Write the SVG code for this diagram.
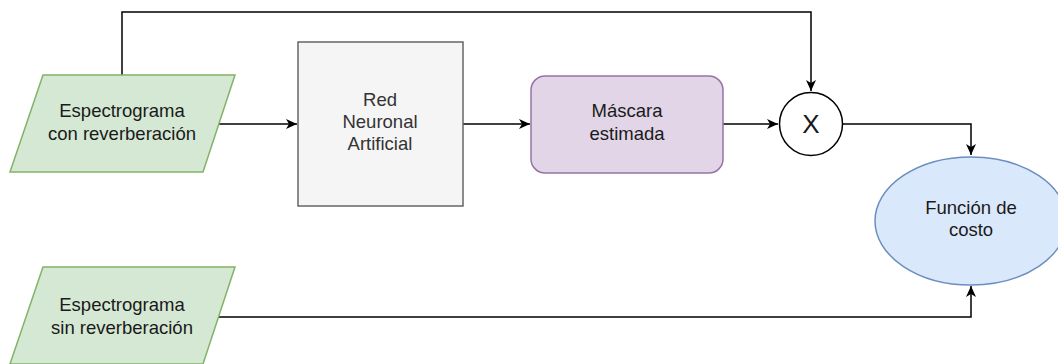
<svg xmlns="http://www.w3.org/2000/svg" width="1058" height="364" viewBox="0 0 1058 364">
<style>
text{font-family:"Liberation Sans",Arial,sans-serif;font-size:18.5px;fill:#1a1a1a;text-anchor:middle}
.c{fill:none;stroke:#000;stroke-width:1.5}
</style>
<defs>
<marker id="a" markerWidth="12" markerHeight="10" refX="11" refY="5" orient="auto" markerUnits="userSpaceOnUse">
<path d="M0,0 L11,5 L0,10 L3,5 Z" fill="#000"/>
</marker>
</defs>
<rect width="1058" height="364" fill="#fff"/>
<g id="connectors">
<path class="c" d="M122,75 V12 H811 V91" marker-end="url(#a)"/>
<path class="c" d="M219,124 H297" marker-end="url(#a)"/>
<path class="c" d="M463,124 H530" marker-end="url(#a)"/>
<path class="c" d="M723,124 H778" marker-end="url(#a)"/>
<path class="c" d="M843,124 H971 V155" marker-end="url(#a)"/>
<path class="c" d="M219,317 H971 V286" marker-end="url(#a)"/>
</g>
<g id="spec-rev">
<polygon points="43,75 235,75 203,172 10,172" fill="#d5e8d4" stroke="#82b366" stroke-width="1.5"/>
<text x="122" y="117">Espectrograma</text>
<text x="122" y="140">con reverberación</text>
</g>
<g id="red">
<rect x="298" y="42" width="165" height="164" fill="#f5f5f5" stroke="#666" stroke-width="1.5"/>
<text x="380" y="106" style="fill:#333">Red</text>
<text x="380" y="128" style="fill:#333">Neuronal</text>
<text x="380" y="150" style="fill:#333">Artificial</text>
</g>
<g id="mascara">
<rect x="531" y="76" width="192" height="97" rx="14" fill="#e1d5e7" stroke="#9673a6" stroke-width="1.5"/>
<text x="627" y="117">Máscara</text>
<text x="627" y="140">estimada</text>
</g>
<g id="mult">
<circle cx="811" cy="124" r="31.5" fill="#fff" stroke="#000" stroke-width="1.5"/>
<text x="811" y="133" style="font-size:26px">X</text>
</g>
<g id="costo">
<ellipse cx="971" cy="221" rx="96" ry="64" fill="#dae8fc" stroke="#6c8ebf" stroke-width="1.5"/>
<text x="971" y="214">Función de</text>
<text x="971" y="236">costo</text>
</g>
<g id="spec-clean">
<polygon points="43,267 235,267 203,364 10,364" fill="#d5e8d4" stroke="#82b366" stroke-width="1.5"/>
<text x="122" y="311">Espectrograma</text>
<text x="122" y="334">sin reverberación</text>
</g>
</svg>
